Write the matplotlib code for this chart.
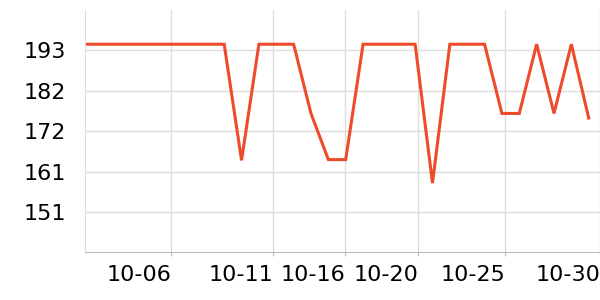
import matplotlib
matplotlib.use("Agg")
import matplotlib.pyplot as plt
from matplotlib.ticker import FormatStrFormatter

# daily values
values = [194.4, 194.4, 194.4, 194.4, 194.4, 194.4, 194.4, 194.4, 194.4, 164.2,
          194.4, 194.4, 194.4, 176.4, 164.4, 164.4, 194.4, 194.4, 194.4, 194.4,
          158.3, 194.4, 194.4, 194.4, 176.4, 176.4, 194.4, 176.4, 194.4, 175.2]
tick_labels = ['10-06', '10-11', '10-16', '10-20', '10-25', '10-30']
tick_pos = [4.95, 10.83, 14.98, 19.18, 24.19, 29.65]
y_ticks = [150.8, 161.3, 171.8, 182.3, 192.8]

fig = plt.figure(figsize=(6, 3), dpi=100)
ax = fig.add_axes([0.1422, 0.159, 0.8578, 0.8077])

ax.plot(range(len(values)), values, color='#ee4b2b', linewidth=2.2, solid_joinstyle='miter')

ax.set_xlim(0, 29.65)
ax.set_ylim(140.3, 203.3)
ax.set_yticks(y_ticks)
ax.yaxis.set_major_formatter(FormatStrFormatter('%.0f'))
ax.set_xticks(tick_pos)
ax.set_xticklabels(tick_labels, ha='right')

ax.grid(True, color='#dddddd', linewidth=1)
ax.set_axisbelow(True)
for side in ['top', 'right']:
    ax.spines[side].set_visible(False)
ax.spines['left'].set_color('#dddddd')
ax.spines['bottom'].set_color('#bbbbbb')
ax.tick_params(axis='y', length=0, pad=14, labelsize=16)
ax.tick_params(axis='x', length=3, color='#bbbbbb', pad=6, labelsize=16)

fig.savefig('out.png', dpi=100)
